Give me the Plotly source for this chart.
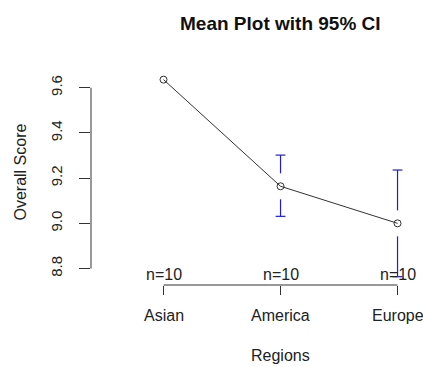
import plotly.graph_objects as go

# ---- data ----
regions = ["Asian", "America", "Europe"]
means = [9.636, 9.164, 9.000]
ci_lower = [9.586, 9.031, 8.764]
ci_upper = [9.686, 9.302, 9.236]
counts = [10, 10, 10]
ytick_vals = [8.8, 9.0, 9.2, 9.4, 9.6]
ytick_text = ["8.8", "9.0", "9.2", "9.4", "9.6"]

FONT = "Liberation Sans, Arial, sans-serif"
W, H = 423, 367
ML, MR, MT, MB = 91, 0, 60, 82
plot_h = H - MT - MB
plot_w = W - ML - MR

xs = list(range(1, len(regions) + 1))

# R-style limits: range of CIs extended by 4%
lo, hi = min(ci_lower), max(ci_upper)
pad = 0.04 * (hi - lo)
y0, y1 = lo - pad, hi + pad
# x limits: (0.5, n+0.5) extended by 4%; right part cropped by window
xl0 = 0.5 - 0.04 * len(regions)
xl1 = len(regions) + 0.5 + 0.04 * len(regions)
px_per_x = 117.0
xr1 = xl0 + plot_w / px_per_x

gap_px = 13
gap = gap_px * (y1 - y0) / plot_h

# error bar segments with gap around the mean
seg_x, seg_y = [], []
cap_x, cap_y = [], []
for x, m, l, u in zip(xs, means, ci_lower, ci_upper):
    if u > m + gap:
        seg_x += [x, x, None]
        seg_y += [m + gap, u, None]
        cap_x.append(x); cap_y.append(u)
    if l < m - gap:
        seg_x += [x, x, None]
        seg_y += [l, m - gap, None]
        cap_x.append(x); cap_y.append(l)

BLUE = "#1f1fd0"
fig = go.Figure()
fig.add_trace(go.Scatter(x=seg_x, y=seg_y, mode="lines",
                         line=dict(color=BLUE, width=1.2), hoverinfo="skip",
                         cliponaxis=False))
fig.add_trace(go.Scatter(x=cap_x, y=cap_y, mode="markers",
                         marker=dict(symbol="line-ew", size=7,
                                     line=dict(color=BLUE, width=1.2)),
                         hoverinfo="skip", cliponaxis=False))
fig.add_trace(go.Scatter(x=xs, y=means, mode="lines+markers",
                         line=dict(color="#333333", width=1),
                         marker=dict(symbol="circle-open", size=7,
                                     color="#333333", line=dict(width=1)),
                         cliponaxis=False))

# axis lines spanning only the tick range (R style)
fig.add_shape(type="line", xref="paper", yref="y", x0=0, x1=0,
              y0=ytick_vals[0], y1=ytick_vals[-1],
              line=dict(color="#333333", width=1))
fig.add_shape(type="line", xref="x", yref="paper", x0=xs[0], x1=xs[-1],
              y0=0, y1=0, line=dict(color="#333333", width=1))

# n= labels and category labels
for x, n, name in zip(xs, counts, regions):
    fig.add_annotation(x=x, y=0, xref="x", yref="paper", text=f"n={n}",
                       showarrow=False, yanchor="bottom", yshift=0,
                       font=dict(family=FONT, size=16, color="#222222"))
    fig.add_annotation(x=x, y=0, xref="x", yref="paper", text=name,
                       showarrow=False, yanchor="middle", yshift=-30,
                       font=dict(family=FONT, size=16, color="#222222"))

# title centered over full (uncropped) plot region
fig.add_annotation(x=(xl0 + xl1) / 2, y=1, xref="x", yref="paper",
                   text="<b>Mean Plot with 95% CI</b>", showarrow=False,
                   yanchor="middle", yshift=37,
                   font=dict(family=FONT, size=19, color="#111111"))
fig.add_annotation(x=(xl0 + xl1) / 2, y=0, xref="x", yref="paper",
                   text="Regions", showarrow=False, yanchor="middle",
                   yshift=-70,
                   font=dict(family=FONT, size=16, color="#222222"))
fig.add_annotation(x=0, y=0.5, xref="paper", yref="paper",
                   text="Overall Score", showarrow=False, textangle=-90,
                   xanchor="center", xshift=-(91 - 20),
                   font=dict(family=FONT, size=16, color="#222222"))

fig.update_layout(
    width=W, height=H,
    margin=dict(l=ML, r=MR, t=MT, b=MB),
    paper_bgcolor="white", plot_bgcolor="white",
    showlegend=False,
    xaxis=dict(range=[xl0, xr1], tickvals=xs, showticklabels=False,
               ticks="outside", ticklen=9, tickcolor="#333333",
               showline=False, showgrid=False, zeroline=False),
    yaxis=dict(range=[y0, y1], tickvals=ytick_vals, ticktext=ytick_text,
               ticks="outside", ticklen=11, tickcolor="#333333",
               tickangle=-90, showline=False, showgrid=False,
               zeroline=False, ticklabelstandoff=11,
               tickfont=dict(family=FONT, size=15, color="#222222")),
)

fig.write_html("out.html",
               config={"displayModeBar": False},
               post_script="document.body.style.margin='0px';"
                           "document.body.style.overflow='hidden';")
